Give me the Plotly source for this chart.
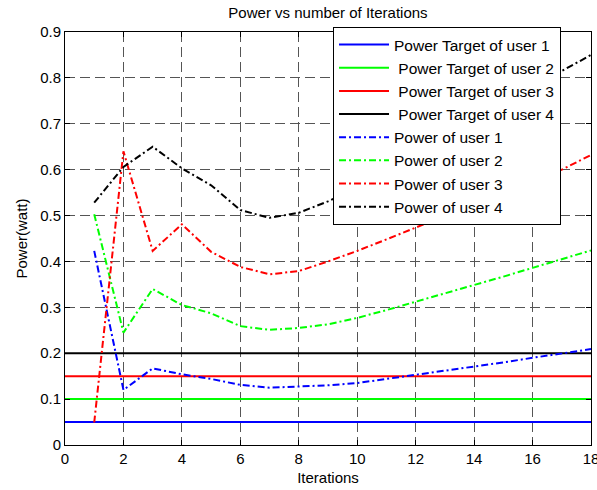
import plotly.graph_objects as go

# data
iterations = list(range(1, 19))
target_x = [0, 18]

target_user1 = [0.05, 0.05]
target_user2 = [0.10, 0.10]
target_user3 = [0.15, 0.15]
target_user4 = [0.20, 0.20]

power_user1 = [0.423, 0.120, 0.167, 0.154, 0.144, 0.131, 0.125, 0.127, 0.130,
               0.135, 0.144, 0.153, 0.161, 0.170, 0.180, 0.190, 0.199, 0.209]
power_user2 = [0.503, 0.245, 0.340, 0.305, 0.287, 0.259, 0.251, 0.255, 0.263,
               0.277, 0.294, 0.312, 0.330, 0.349, 0.367, 0.386, 0.405, 0.424]
power_user3 = [0.049, 0.640, 0.423, 0.481, 0.421, 0.388, 0.372, 0.379, 0.400,
               0.423, 0.448, 0.474, 0.500, 0.525, 0.550, 0.575, 0.600, 0.632]
power_user4 = [0.528, 0.606, 0.650, 0.603, 0.566, 0.512, 0.495, 0.506, 0.531,
               0.561, 0.594, 0.629, 0.665, 0.702, 0.739, 0.777, 0.815, 0.850]

BLUE = '#0000ff'
GREEN = '#00ff00'
RED = '#ff0000'
BLACK = '#000000'
DASHDOT = '7px,3px,2px,3px'
FONT = 'Arial, Liberation Sans, sans-serif'

fig = go.Figure()

targets = [
    ('Power Target of user 1', target_user1, BLUE),
    ('\u00a0Power Target of user 2', target_user2, GREEN),
    ('\u00a0Power Target of user 3', target_user3, RED),
    ('\u00a0Power Target of user 4', target_user4, BLACK),
]
for name, vals, color in targets:
    fig.add_trace(go.Scatter(
        x=target_x, y=vals, mode='lines', name=name, legendgroup=name,
        line={'color': color, 'width': 2}
    ))

powers = [
    ('Power of user 1', power_user1, BLUE),
    ('Power of user 2', power_user2, GREEN),
    ('Power of user 3', power_user3, RED),
    ('Power of user 4', power_user4, BLACK),
]
for name, vals, color in powers:
    fig.add_trace(go.Scatter(
        x=iterations, y=vals, mode='lines', name=name, legendgroup=name,
        line={'color': color, 'width': 2, 'dash': DASHDOT}
    ))

axis_style = dict(
    showline=True, linecolor='black', linewidth=1, mirror='ticks',
    ticks='inside', ticklen=5, tickcolor='black',
    showgrid=True, gridcolor='#555555', gridwidth=1, griddash='10px,5px',
    zeroline=False, automargin=False, ticklabeloverflow='allow',
    tickfont={'size': 15, 'color': 'black', 'family': FONT},
)

fig.update_xaxes(
    range=[0, 18], dtick=2, tick0=0,
    title={'text': 'Iterations', 'font': {'size': 15, 'family': FONT}, 'standoff': 6},
    **axis_style
)
fig.update_yaxes(
    range=[0, 0.9], dtick=0.1, tick0=0, tickformat='.1~f',
    title={'text': 'Power(watt)', 'font': {'size': 15, 'family': FONT}, 'standoff': 8},
    **axis_style
)

fig.update_layout(
    width=597, height=490,
    margin={'l': 65, 'r': 6, 't': 32, 'b': 45},
    paper_bgcolor='white', plot_bgcolor='white',
    font={'family': FONT, 'color': 'black', 'size': 15},
    title={'text': 'Power vs number of Iterations', 'x': 0.5, 'xref': 'paper',
           'y': 1 - 13 / 490, 'yref': 'container', 'yanchor': 'middle',
           'font': {'size': 15, 'family': FONT}},
    legend={'x': 0.943, 'xanchor': 'right', 'y': 1.012, 'yanchor': 'top',
            'bgcolor': 'white', 'bordercolor': 'black', 'borderwidth': 1,
            'font': {'size': 15.5, 'family': FONT}, 'itemwidth': 50,
            'tracegroupgap': 0},
    showlegend=True,
)

# drop the page's default body margin so the figure sits at the window corner
page_fix = (
    "document.body.style.margin='0';"
    "document.body.style.overflow='hidden';"
    "document.documentElement.style.overflow='hidden';"
)
fig.write_html('out.html', config={'displayModeBar': False}, post_script=page_fix)
